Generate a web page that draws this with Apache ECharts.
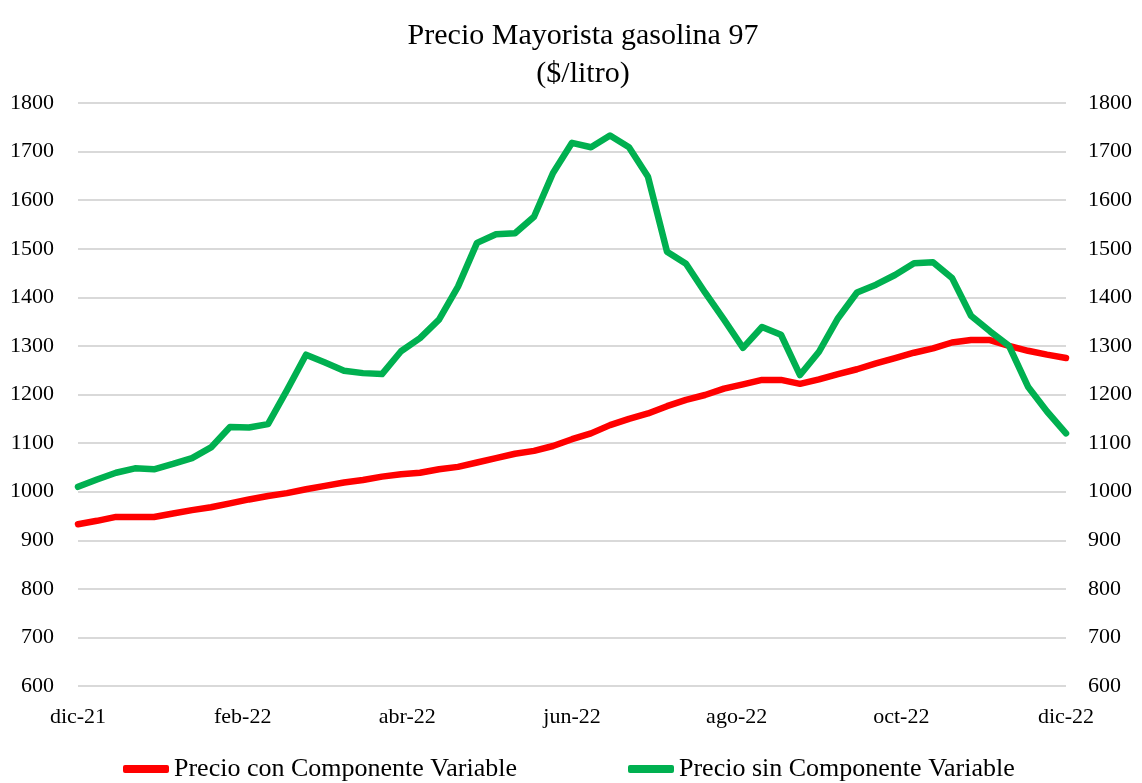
<!DOCTYPE html>
<html>
<head>
<meta charset="utf-8">
<title>Precio Mayorista gasolina 97</title>
<script src="https://cdn.jsdelivr.net/npm/echarts@6/dist/echarts.min.js"></script>
<style>
  html, body { margin: 0; padding: 0; background: #ffffff; }
  #chart { width: 1142px; height: 783px; }
</style>
</head>
<body>
<div id="chart"></div>
<script>
// weekly observations (Thursdays)
const dates = [
  "2021-12-02", "2021-12-09", "2021-12-16", "2021-12-23", "2021-12-30",
  "2022-01-06", "2022-01-13", "2022-01-20", "2022-01-27",
  "2022-02-03", "2022-02-10", "2022-02-17", "2022-02-24",
  "2022-03-03", "2022-03-10", "2022-03-17", "2022-03-24", "2022-03-31",
  "2022-04-07", "2022-04-14", "2022-04-21", "2022-04-28",
  "2022-05-05", "2022-05-12", "2022-05-19", "2022-05-26",
  "2022-06-02", "2022-06-09", "2022-06-16", "2022-06-23", "2022-06-30",
  "2022-07-07", "2022-07-14", "2022-07-21", "2022-07-28",
  "2022-08-04", "2022-08-11", "2022-08-18", "2022-08-25",
  "2022-09-01", "2022-09-08", "2022-09-15", "2022-09-22", "2022-09-29",
  "2022-10-06", "2022-10-13", "2022-10-20", "2022-10-27",
  "2022-11-03", "2022-11-10", "2022-11-17", "2022-11-24",
  "2022-12-01"
];

const conComponente = [
  933, 940, 948, 948, 948, 955, 962, 968, 976, 984,
  991, 997, 1005, 1012, 1019, 1024, 1031, 1036, 1039, 1046,
  1051, 1060, 1069, 1078, 1084, 1094, 1108, 1120, 1137, 1150,
  1161, 1176, 1189, 1199, 1212, 1221, 1230, 1230, 1222, 1231,
  1242, 1252, 1264, 1275, 1286, 1295, 1307, 1312, 1312, 1300,
  1290, 1282, 1275
];

const sinComponente = [
  1010, 1025, 1039, 1048, 1046, 1057, 1069, 1091, 1133, 1132,
  1139, 1209, 1282, 1266, 1249, 1244, 1242, 1289, 1316, 1354,
  1422, 1512, 1530, 1532, 1566, 1656, 1718, 1709, 1733, 1709,
  1648, 1494, 1469, 1410, 1354, 1296, 1339, 1323, 1240, 1288,
  1357, 1410, 1426, 1446, 1470, 1472, 1440, 1362, 1330, 1300,
  1216, 1165, 1120
];

const monthLabels = ["dic-21", "feb-22", "abr-22", "jun-22", "ago-22", "oct-22", "dic-22"];

const seriesNames = ["Precio con Componente Variable", "Precio sin Componente Variable"];

const FONT = "'Liberation Serif', 'Times New Roman', serif";
const DAY = 24 * 3600 * 1000;
const start = Date.parse(dates[0] + "T00:00:00Z");
const span = Math.round((Date.parse(dates[dates.length - 1] + "T00:00:00Z") - start) / DAY);
const step = span / (monthLabels.length - 1);

function toDay(d) {
  return Math.round((Date.parse(d + "T00:00:00Z") - start) / DAY);
}

function pairs(values) {
  return values.map((v, i) => [toDay(dates[i]), v]);
}

const chart = echarts.init(document.getElementById("chart"));

const yLabel = {
  color: "#000000",
  fontFamily: FONT,
  fontSize: 22,
  formatter: (v) => String(v),
};

const legendText = { color: "#000000", fontFamily: FONT, fontSize: 26 };

chart.setOption({
  animation: false,
  backgroundColor: "#ffffff",
  title: {
    text: "Precio Mayorista gasolina 97\n($/litro)",
    left: 578,
    textAlign: "center",
    top: 12,
    textStyle: {
      color: "#000000",
      fontFamily: FONT,
      fontSize: 30,
      fontWeight: "normal",
      lineHeight: 38,
    },
  },
  legend: [
    {
      data: [seriesNames[0]],
      left: 118,
      top: 751,
      icon: "roundRect",
      itemWidth: 46,
      itemHeight: 8,
      textStyle: legendText,
    },
    {
      data: [seriesNames[1]],
      left: 623,
      top: 751,
      icon: "roundRect",
      itemWidth: 46,
      itemHeight: 8,
      textStyle: legendText,
    },
  ],
  grid: {
    left: 78,
    right: 76,
    top: 103,
    bottom: 97,
    containLabel: false,
  },
  xAxis: {
    type: "value",
    min: 0,
    max: span,
    interval: step,
    axisLine: { show: false },
    axisTick: { show: false },
    splitLine: { show: false },
    axisLabel: {
      color: "#000000",
      fontFamily: FONT,
      fontSize: 22,
      margin: 20,
      showMinLabel: true,
      showMaxLabel: true,
      formatter: (v) => monthLabels[Math.round(v / step)] || "",
    },
  },
  yAxis: [
    {
      type: "value",
      min: 600,
      max: 1800,
      interval: 100,
      axisLine: { show: false },
      axisTick: { show: false },
      axisLabel: { ...yLabel, margin: 24 },
      splitLine: { show: true, lineStyle: { color: "#d9d9d9", width: 2 } },
    },
    {
      type: "value",
      position: "right",
      min: 600,
      max: 1800,
      interval: 100,
      axisLine: { show: false },
      axisTick: { show: false },
      axisLabel: { ...yLabel, margin: 22 },
      splitLine: { show: false },
    },
  ],
  series: [
    {
      name: seriesNames[0],
      type: "line",
      data: pairs(conComponente),
      showSymbol: false,
      symbol: "none",
      color: "#ff0000",
      lineStyle: { color: "#ff0000", width: 6.5, join: "round", cap: "round" },
      z: 2,
    },
    {
      name: seriesNames[1],
      type: "line",
      data: pairs(sinComponente),
      showSymbol: false,
      symbol: "none",
      color: "#00b050",
      lineStyle: { color: "#00b050", width: 6.5, join: "round", cap: "round" },
      z: 3,
    },
  ],
});
</script>
</body>
</html>
